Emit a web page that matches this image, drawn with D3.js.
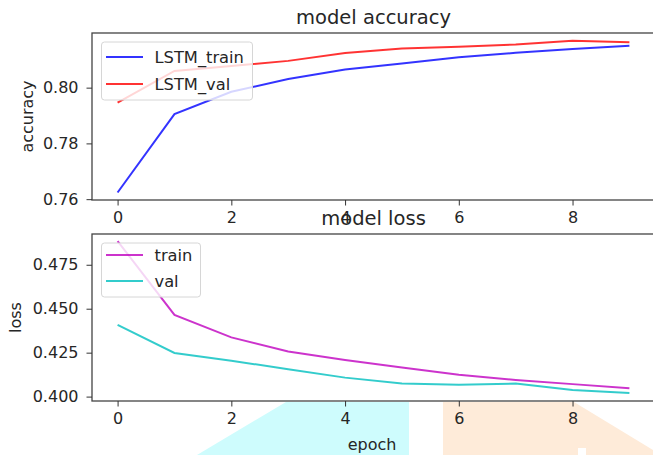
<!DOCTYPE html>
<html>
<head>
<meta charset="utf-8">
<script src="https://cdn.jsdelivr.net/npm/d3@7"></script>
<style>
  body { margin: 0; background: #fff; }
  svg { display: block; font-family: "DejaVu Sans", sans-serif; }
  .tick text { fill: #262626; font-size: 16px; }
  .tick line { stroke: #333; }
  .domain { display: none; }
</style>
</head>
<body>
<script>
// data
var epochs = [0, 1, 2, 3, 4, 5, 6, 7, 8, 9];
var accTrain = [0.7624, 0.7905, 0.7985, 0.8031, 0.8065, 0.8087, 0.8109, 0.8125, 0.8139, 0.8150];
var accVal = [0.7946, 0.8060, 0.8078, 0.8096, 0.8124, 0.8140, 0.8147, 0.8155, 0.8168, 0.8163];
var lossTrain = [0.4885, 0.4465, 0.4337, 0.4257, 0.4208, 0.4166, 0.4124, 0.4094, 0.4071, 0.4048];
var lossVal = [0.4408, 0.4248, 0.4204, 0.4156, 0.4108, 0.4074, 0.4067, 0.4074, 0.4037, 0.4021];
var xTicks = [0, 2, 4, 6, 8];
var accTicks = [0.76, 0.78, 0.80];
var lossTicks = [0.400, 0.425, 0.450, 0.475];

var svgWidth = 653;
var svgHeight = 455;

var svg = d3.select("body")
    .append("svg")
    .attr("width", svgWidth)
    .attr("height", svgHeight);

// stray shapes behind the lower axis (part of the screenshot)
svg.append("polygon")
    .attr("points", "197,455 286,402 409,402 409,455")
    .attr("fill", "#cefcfd");
svg.append("polygon")
    .attr("points", "443,402 574,402 653,450 653,455 443,455")
    .attr("fill", "#feebd9");
svg.append("rect")
    .attr("x", 578).attr("y", 448).attr("width", 8).attr("height", 7)
    .attr("fill", "#fff");

var xScale = d3.scaleLinear().domain([-0.45, 9.45]).range([92, 655]);

function panel(opts) {
    var yScale = d3.scaleLinear().domain(opts.ydom).range([opts.bottom, opts.top]);
    var g = svg.append("g");

    var line = d3.line().x((d, i) => xScale(epochs[i])).y(d => yScale(d));

    opts.series.forEach(function(s) {
        g.append("path")
            .datum(s.values)
            .attr("d", line)
            .attr("fill", "none")
            .attr("stroke", s.color)
            .attr("stroke-opacity", 0.8)
            .attr("stroke-width", 2);
    });

    // frame
    g.append("rect")
        .attr("x", xScale.range()[0])
        .attr("y", opts.top)
        .attr("width", xScale.range()[1] - xScale.range()[0])
        .attr("height", opts.bottom - opts.top)
        .attr("fill", "none")
        .attr("stroke", "#444")
        .attr("stroke-width", 1.3);

    g.append("g")
        .attr("transform", `translate(0, ${opts.bottom})`)
        .call(d3.axisBottom(xScale).tickValues(xTicks).tickSize(5.5).tickPadding(6).tickFormat(d3.format("d")));

    g.append("g")
        .attr("transform", `translate(${xScale.range()[0]}, 0)`)
        .call(d3.axisLeft(yScale).tickValues(opts.yticks).tickSize(5.5).tickPadding(8).tickFormat(opts.yfmt));

    g.selectAll(".tick text").attr("font-family", "DejaVu Sans").attr("font-size", "16px");

    // y label
    g.append("text")
        .attr("transform", `translate(${opts.ylabX}, ${(opts.top + opts.bottom) / 2}) rotate(-90)`)
        .attr("text-anchor", "middle")
        .attr("dominant-baseline", "central")
        .attr("font-size", "16px")
        .attr("fill", "#262626")
        .text(opts.ylabel);

    // title
    g.append("text")
        .attr("x", (xScale.range()[0] + xScale.range()[1]) / 2)
        .attr("y", opts.top - 9)
        .attr("text-anchor", "middle")
        .attr("font-size", "19.5px")
        .attr("fill", "#262626")
        .text(opts.title);

    // legend
    var leg = g.append("g");
    leg.append("rect")
        .attr("x", 101.5)
        .attr("y", opts.top + 9)
        .attr("width", opts.legW)
        .attr("height", opts.legH)
        .attr("rx", 3)
        .attr("fill", "#fff")
        .attr("fill-opacity", 0.8)
        .attr("stroke", "#d6d6d6");
    opts.series.forEach(function(s, i) {
        var yy = opts.top + opts.legRow + i * opts.legStep;
        leg.append("line")
            .attr("x1", 106).attr("x2", 143)
            .attr("y1", yy).attr("y2", yy)
            .attr("stroke", s.color)
            .attr("stroke-opacity", 0.8)
            .attr("stroke-width", 2);
        leg.append("text")
            .attr("x", 154.5)
            .attr("y", yy)
            .attr("dominant-baseline", "central")
            .attr("font-size", "16.3px")
            .attr("fill", "#262626")
            .text(s.name);
    });
}

panel({
    top: 33, bottom: 200,
    ydom: [0.7597, 0.8196],
    yticks: accTicks, yfmt: d3.format(".2f"),
    ylabel: "accuracy", ylabX: 27,
    title: "model accuracy",
    legW: 151, legH: 58, legRow: 24, legStep: 27,
    series: [
        {name: "LSTM_train", values: accTrain, color: "#0000ff"},
        {name: "LSTM_val", values: accVal, color: "#ff0000"}
    ]
});

panel({
    top: 234, bottom: 401,
    ydom: [0.3975, 0.4925],
    yticks: lossTicks, yfmt: d3.format(".3f"),
    ylabel: "loss", ylabX: 15,
    title: "model loss",
    legW: 99, legH: 54, legRow: 21, legStep: 26,
    series: [
        {name: "train", values: lossTrain, color: "#bf00bf"},
        {name: "val", values: lossVal, color: "#00bfbf"}
    ]
});

// x label
svg.append("text")
    .attr("x", 372)
    .attr("y", 450)
    .attr("text-anchor", "middle")
    .attr("font-size", "16px")
    .attr("fill", "#262626")
    .text("epoch");
</script>
</body>
</html>
